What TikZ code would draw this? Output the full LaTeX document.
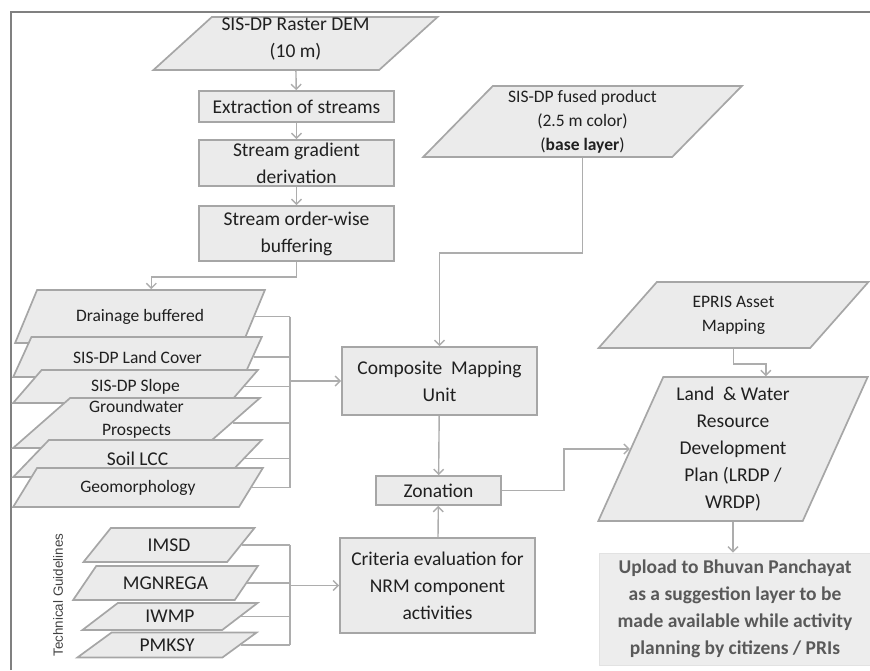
\documentclass[tikz,border=0pt]{standalone}
\usepackage{fontspec}
\setmainfont{Carlito}
\setsansfont{Liberation Sans}
\usetikzlibrary{shapes.geometric}
\usetikzlibrary{arrows.meta}
\definecolor{boxfill}{HTML}{EBEBEB}
\definecolor{boxline}{HTML}{A6A6A6}
\definecolor{linkgray}{HTML}{ADADAD}
\definecolor{ink}{HTML}{202020}
\definecolor{framegray}{HTML}{808080}
\definecolor{uploadfill}{HTML}{EDEDED}
\definecolor{uploadline}{HTML}{E2E2E2}
\definecolor{uploadink}{HTML}{595959}
\newcommand\bigfont{\fontsize{19.5}{27}\selectfont}
\newcommand\smallfont{\fontsize{17.5}{24}\selectfont}
\tikzset{>={Straight Barb[length=5pt,width=10pt]}}
\tikzset{
  procbox/.style={draw=boxline, fill=boxfill, line width=1.7pt, inner sep=0pt, align=center, text=ink, font=\bigfont},
  databox/.style 2 args={procbox, trapezium, trapezium stretches=true, trapezium left angle=#1, trapezium right angle=#2},
  layerbox/.style={databox={48}{132}, font=\smallfont},
  flow/.style={draw=linkgray, line width=1.4pt},
}

\begin{document}
\begin{tikzpicture}[x=1pt, y=-1pt]
    \useasboundingbox (0,0) rectangle (870,670);
    \draw[framegray, line width=2pt](11,670)--(11,12)--(870,12);

    % DEM chain
    \node[databox={45}{135}, minimum width=285pt, minimum height=53pt, text depth=12pt] (dem) at (295.5,43.5) {SIS-DP Raster DEM\\(10 m)};
    \node[procbox, minimum width=195pt, minimum height=31pt] (ext) at (296.5,106.5) {Extraction of streams};
    \node[procbox, minimum width=195pt, minimum height=46pt] (grad) at (296.5,163) {Stream gradient\\derivation};
    \node[procbox, minimum width=195pt, minimum height=55pt] (order) at (296.5,233.5) {Stream order-wise\\buffering};

    % thematic layers
    \node[layerbox, minimum width=250pt, minimum height=53pt] (drain) at (140,316.5) {Drainage buffered};
    \node[layerbox, minimum width=249pt, minimum height=40pt] (cover) at (137.5,357) {SIS-DP Land Cover};
    \node[layerbox, minimum width=245pt, minimum height=33pt] (slope) at (135.5,386.5) {SIS-DP Slope};
    \node[layerbox, minimum width=247pt, minimum height=50pt, font=\fontsize{17.5}{23}\selectfont, text depth=10pt] (gwp) at (136.5,423) {Groundwater\\Prospects};
    \node[layerbox, minimum width=249pt, minimum height=37pt, font=\bigfont] (soil) at (137.5,458.5) {Soil LCC};
    \node[layerbox, minimum width=250pt, minimum height=39pt] (geo) at (138,487.5) {Geomorphology};

    % guidelines
    \node[databox={52}{128}, minimum width=172pt, minimum height=34pt] (imsd) at (169,545) {IMSD};
    \node[databox={42}{138}, minimum width=185pt, minimum height=34pt] (mgnrega) at (165.5,583) {MGNREGA};
    \node[databox={37}{143}, minimum width=176pt, minimum height=27pt] (iwmp) at (170,616.5) {IWMP};
    \node[databox={37}{143}, minimum width=180pt, minimum height=25pt] (pmksy) at (167,645) {PMKSY};
    \node[rotate=90, font=\sffamily\fontsize{13.4}{16}\selectfont, text=black!75] (tg) at (58,595) {Technical Guidelines};

    % middle column
    \node[databox={47.5}{132.5}, minimum width=319pt, minimum height=71pt, font=\smallfont] (fused) at (582.5,121.5) {SIS-DP fused product\\(2.5 m color)\\(\textbf{base layer})};
    \node[procbox, minimum width=195pt, minimum height=68pt] (cmu) at (439.5,381) {Composite\ \ Mapping\\Unit};
    \node[procbox, minimum width=125pt, minimum height=29pt] (zon) at (438.5,490.5) {Zonation};
    \node[procbox, minimum width=195pt, minimum height=95pt] (crit) at (437.5,585.5) {Criteria evaluation for\\NRM component\\activities};

    % right column
    \node[databox={51}{129}, minimum width=270pt, minimum height=66pt, font=\smallfont] (epris) at (733.5,315) {EPRIS Asset\\Mapping};
    \node[databox={67}{113}, minimum width=270pt, minimum height=144pt] (lw) at (733,449) {Land\ \ \& Water\\Resource\\Development\\Plan (LRDP /\\WRDP)};
    \node[procbox, draw=uploadline, fill=uploadfill, line width=0.8pt, text=uploadink, font=\bigfont\bfseries, minimum width=272pt, minimum height=112pt] (upload) at (735,609) {Upload to Bhuvan Panchayat\\as a suggestion layer to be\\made available while activity\\planning by citizens / PRIs};

    % connectors
    \coordinate (busa) at (290,0);
    \draw[flow, ->](dem)--(ext);
    \draw[flow, ->](ext)--(grad);
    \draw[flow, ->](grad)--(order);
    \draw[flow, ->](order.south)--++(0,15)-|(drain.top side);
    \foreach \n in {drain, cover, slope, gwp, soil, geo}
        \draw[flow](\n.right side)--(\n.right side -| busa);
    \draw[flow](drain.right side -| busa)--(geo.right side -| busa);
    \draw[flow, ->](busa |- cmu.west)--(cmu.west);
    \foreach \n in {imsd, mgnrega, iwmp, pmksy}
        \draw[flow](\n.right side)--(\n.right side -| busa);
    \draw[flow](imsd.right side -| busa)--(pmksy.right side -| busa);
    \draw[flow, ->](busa |- crit.west)--(crit.west);
    \draw[flow, ->](fused.270)--++(0,95)-|(cmu.north);
    \draw[flow, ->](cmu)--(zon);
    \draw[flow, ->](crit)--(zon);
    \draw[flow, ->](zon.east)--++(62,0)|-(lw.left side);
    \draw[flow, ->](epris.270)--++(0,15)-|(lw.top side);
    \draw[flow, ->](lw.270)--(lw.270 |- upload.north);
\end{tikzpicture}
\end{document}
